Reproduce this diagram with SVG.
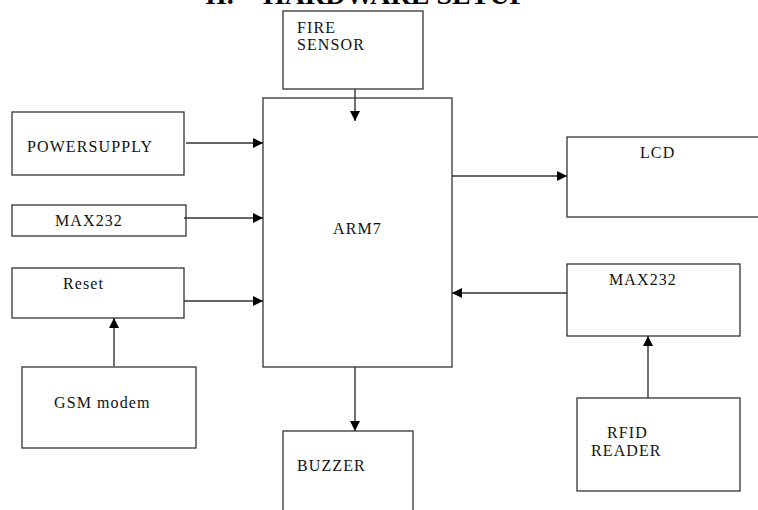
<svg xmlns="http://www.w3.org/2000/svg" width="758" height="510" viewBox="0 0 758 510">
<defs>
<marker id="ah" viewBox="0 0 10 10" refX="10" refY="5" markerWidth="10" markerHeight="10" markerUnits="userSpaceOnUse" orient="auto">
<path d="M0,0 L10,5 L0,10 z" fill="#000"/>
</marker>
<style>
.box{fill:#fff;stroke:#333;stroke-width:1.3}
.lbl{font-family:"Liberation Serif","Times New Roman",serif;font-size:16px;letter-spacing:1.1px;fill:#111}
.hd{font-family:"Liberation Serif","Times New Roman",serif;font-size:28px;font-weight:bold;fill:#000}
.cn{stroke:#333;stroke-width:1.4;fill:none;marker-end:url(#ah)}
</style>
</defs>
<rect width="758" height="510" fill="#fff"/>
<text class="hd" x="205" y="4">II.<tspan x="263">HARDWARE SETUP</tspan></text>
<g id="fire"><rect class="box" x="283" y="11" width="140" height="78"/><text class="lbl" x="297" y="33">FIRE</text><text class="lbl" x="297" y="50">SENSOR</text></g>
<g id="arm7"><rect class="box" x="263" y="98" width="189" height="269"/><text class="lbl" x="333" y="234">ARM7</text></g>
<g id="power"><rect class="box" x="12" y="112" width="172" height="63"/><text class="lbl" x="27" y="152">POWERSUPPLY</text></g>
<g id="max232l"><rect class="box" x="12" y="205" width="174" height="31"/><text class="lbl" x="55" y="226">MAX232</text></g>
<g id="reset"><rect class="box" x="12" y="268" width="172" height="50"/><text class="lbl" x="63" y="289">Reset</text></g>
<g id="gsm"><rect class="box" x="22" y="367" width="174" height="81"/><text class="lbl" x="54" y="408">GSM modem</text></g>
<g id="buzzer"><rect class="box" x="283" y="431" width="130" height="90"/><text class="lbl" x="297" y="471">BUZZER</text></g>
<g id="lcd"><rect class="box" x="567" y="137" width="200" height="80"/><text class="lbl" x="640" y="158">LCD</text></g>
<g id="max232r"><rect class="box" x="567" y="264" width="173" height="72"/><text class="lbl" x="609" y="285">MAX232</text></g>
<g id="rfid"><rect class="box" x="577" y="398" width="163" height="93"/><text class="lbl" x="607" y="438">RFID</text><text class="lbl" x="591" y="456">READER</text></g>
<g id="connectors">
<line class="cn" x1="355" y1="89" x2="355" y2="121"/>
<line class="cn" x1="186" y1="143" x2="263" y2="143"/>
<line class="cn" x1="184" y1="218" x2="263" y2="218"/>
<line class="cn" x1="184" y1="301" x2="263" y2="301"/>
<line class="cn" x1="114" y1="366" x2="114" y2="318"/>
<line class="cn" x1="355" y1="367" x2="355" y2="431"/>
<line class="cn" x1="452" y1="176" x2="567" y2="176"/>
<line class="cn" x1="567" y1="293" x2="452" y2="293"/>
<line class="cn" x1="648" y1="398" x2="648" y2="336"/>
</g>
</svg>
